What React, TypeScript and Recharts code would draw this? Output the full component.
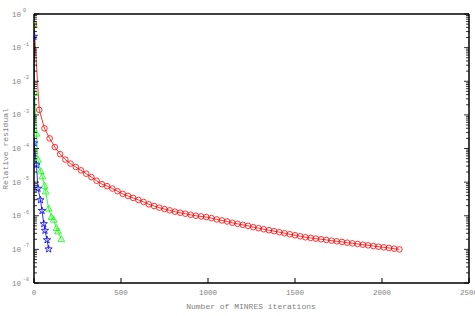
import React from 'react';
import { LineChart, Line, XAxis, YAxis } from 'recharts';

const xTicks = [0, 500, 1000, 1500, 2000, 2500];
const yMajorTicks = [1e-8, 1e-7, 1e-6, 1e-5, 1e-4, 1e-3, 1e-2, 1e-1, 1];
const yMajorExponents = ['-8', '-7', '-6', '-5', '-4', '-3', '-2', '-1', '0'];
const yMinorMultipliers = [2, 3, 4, 5, 6, 7, 8, 9];

const redIters = [
  0, 30, 60, 90, 120, 150, 180, 210, 240, 270, 300, 330, 360, 390, 420, 450, 480, 510, 540, 570,
  600, 630, 660, 690, 720, 750, 780, 810, 840, 870, 900, 930, 960, 990, 1020, 1050, 1080, 1110,
  1140, 1170, 1200, 1230, 1260, 1290, 1320, 1350, 1380, 1410, 1440, 1470, 1500, 1530, 1560, 1590,
  1620, 1650, 1680, 1710, 1740, 1770, 1800, 1830, 1860, 1890, 1920, 1950, 1980, 2010, 2040, 2070, 2100,
];
const redValues = [
  5.0e-1, 1.41e-3, 3.98e-4, 2.0e-4, 1.1e-4, 6.76e-5, 4.68e-5, 3.55e-5, 2.82e-5, 2.24e-5, 1.78e-5,
  1.41e-5, 1.1e-5, 8.71e-6, 7.59e-6, 6.46e-6, 5.37e-6, 4.47e-6, 3.89e-6, 3.39e-6, 2.95e-6, 2.57e-6,
  2.19e-6, 1.95e-6, 1.74e-6, 1.58e-6, 1.45e-6, 1.32e-6, 1.23e-6, 1.15e-6, 1.07e-6, 1.0e-6, 9.55e-7,
  9.12e-7, 8.51e-7, 7.76e-7, 7.24e-7, 6.76e-7, 6.17e-7, 5.75e-7, 5.37e-7, 5.01e-7, 4.57e-7, 4.27e-7,
  3.98e-7, 3.72e-7, 3.47e-7, 3.24e-7, 3.02e-7, 2.82e-7, 2.63e-7, 2.45e-7, 2.29e-7, 2.19e-7, 2.09e-7,
  2.0e-7, 1.91e-7, 1.82e-7, 1.74e-7, 1.66e-7, 1.58e-7, 1.51e-7, 1.45e-7, 1.38e-7, 1.32e-7, 1.26e-7,
  1.2e-7, 1.15e-7, 1.1e-7, 1.05e-7, 1.0e-7,
];

const greenIters = [0, 3, 14, 23, 38, 48, 61, 67, 84, 100, 113, 129, 138, 157];
const greenValues = [
  4.7e-1, 4.47e-3, 2.75e-4, 4.57e-5, 2.09e-5, 1.48e-5, 7.76e-6, 5.25e-6, 1.62e-6, 9.12e-7, 7.59e-7,
  4.27e-7, 3.39e-7, 2.0e-7,
];

const blueIters = [0, 1, 14, 23, 37, 46, 56, 63, 75, 84];
const blueValues = [2.14e-1, 1.45e-4, 3.24e-5, 6.46e-6, 2.95e-6, 1.41e-6, 5.75e-7, 3.63e-7, 1.91e-7, 1.02e-7];

const xLabel = 'Number of MINRES iterations';
const yLabel = 'Relative residual';

const toPoints = (iters: number[], values: number[]) =>
  iters.map((it, i) => ({ iter: it, value: values[i] }));

const redData = toPoints(redIters, redValues);
const greenData = toPoints(greenIters, greenValues);
const blueData = toPoints(blueIters, blueValues);

const yTicks: number[] = [...yMajorTicks];
yMajorTicks.slice(0, -1).forEach((m) => yMinorMultipliers.forEach((k) => yTicks.push(m * k)));

const FONT = '"Liberation Mono", "DejaVu Sans Mono", monospace';
const GRAY = '#808080';

const isMajor = (v: number) => yMajorTicks.some((m) => Math.abs(m - v) / m < 1e-6);

const BottomTick = (props: any) => {
  const { x, y, payload } = props;
  return (
    <g>
      <line x1={x} x2={x} y1={y} y2={y - 5} stroke="#000" strokeWidth={1} />
      <text x={x} y={y + 12} textAnchor="middle" fontFamily={FONT} fontSize={7.5} fill={GRAY}>
        {payload.value}
      </text>
    </g>
  );
};

const TopTick = (props: any) => {
  const { x, y } = props;
  return <line x1={x} x2={x} y1={y} y2={y + 5} stroke="#000" strokeWidth={1} />;
};

const LeftTick = (props: any) => {
  const { x, y, payload } = props;
  const v = payload.value;
  const major = isMajor(v);
  const idx = yMajorTicks.findIndex((m) => Math.abs(m - v) / m < 1e-6);
  return (
    <g>
      <line x1={x} x2={x + (major ? 5 : 3)} y1={y} y2={y} stroke="#000" strokeWidth={0.8} />
      {major && (
        <>
          <text x={x - 13} y={y + 2.5} textAnchor="end" fontFamily={FONT} fontSize={7.5} fill={GRAY}>
            10
          </text>
          <text x={x - 11} y={y - 2} textAnchor="start" fontFamily={FONT} fontSize={5} fill={GRAY}>
            {yMajorExponents[idx]}
          </text>
        </>
      )}
    </g>
  );
};

const RightTick = (props: any) => {
  const { x, y, payload } = props;
  const major = isMajor(payload.value);
  return <line x1={x} x2={x - (major ? 5 : 3)} y1={y} y2={y} stroke="#000" strokeWidth={0.8} />;
};

const CircleDot = (props: any) => {
  const { cx, cy, index } = props;
  if (cx == null || cy == null) return <g key={index} />;
  return <circle key={index} cx={cx} cy={cy} r={2.8} fill="none" stroke="#ff0000" strokeWidth={0.8} />;
};

const TriangleDot = (props: any) => {
  const { cx, cy, index } = props;
  if (cx == null || cy == null) return <g key={index} />;
  const pts = `${cx},${cy - 3.6} ${cx - 3.3},${cy + 2.4} ${cx + 3.3},${cy + 2.4}`;
  return <polygon key={index} points={pts} fill="none" stroke="#00ff00" strokeWidth={0.8} />;
};

const StarDot = (props: any) => {
  const { cx, cy, index } = props;
  if (cx == null || cy == null) return <g key={index} />;
  const pts: string[] = [];
  for (let i = 0; i < 10; i++) {
    const r = i % 2 === 0 ? 3.8 : 1.5;
    const a = -Math.PI / 2 + (i * Math.PI) / 5;
    pts.push(`${cx + r * Math.cos(a)},${cy + r * Math.sin(a)}`);
  }
  return <polygon key={index} points={pts.join(' ')} fill="none" stroke="#0000ff" strokeWidth={0.8} />;
};

export default function App() {
  return (
    <div style={{ position: 'absolute', left: 0, top: 0, width: 475, height: 316, background: '#fff' }}>
      <LineChart width={475} height={316} margin={{ top: 0, right: 0, bottom: 0, left: 0 }}>
        <XAxis
          xAxisId="bottom"
          dataKey="iter"
          type="number"
          domain={[0, 2500]}
          ticks={xTicks}
          interval={0}
          allowDataOverflow
          height={33}
          tickSize={0}
          tickMargin={0}
          tick={<BottomTick />}
          axisLine={{ stroke: '#000', strokeWidth: 1.5 }}
          label={{
            content: () => (
              <text x={251} y={308.5} textAnchor="middle" fontFamily={FONT} fontSize={8} fill={GRAY}>
                {xLabel}
              </text>
            ),
          }}
        />
        <XAxis
          xAxisId="top"
          orientation="top"
          type="number"
          domain={[0, 2500]}
          ticks={xTicks}
          interval={0}
          allowDataOverflow
          height={14}
          tickSize={0}
          tickMargin={0}
          tick={<TopTick />}
          axisLine={{ stroke: '#000', strokeWidth: 1.5 }}
        />
        <YAxis
          yAxisId="left"
          type="number"
          scale="log"
          domain={[1e-8, 1]}
          ticks={yTicks}
          interval={0}
          allowDataOverflow
          width={34}
          tickSize={0}
          tickMargin={0}
          tick={<LeftTick />}
          axisLine={{ stroke: '#000', strokeWidth: 1.5 }}
          label={{
            content: () => (
              <text
                x={8}
                y={149}
                transform="rotate(-90 8 149)"
                textAnchor="middle"
                fontFamily={FONT}
                fontSize={8}
                fill={GRAY}
              >
                {yLabel}
              </text>
            ),
          }}
        />
        <YAxis
          yAxisId="right"
          orientation="right"
          type="number"
          scale="log"
          domain={[1e-8, 1]}
          ticks={yTicks}
          interval={0}
          allowDataOverflow
          width={6}
          tickSize={0}
          tickMargin={0}
          tick={<RightTick />}
          axisLine={{ stroke: '#000', strokeWidth: 1.5 }}
        />
        <Line
          xAxisId="bottom"
          yAxisId="left"
          data={redData}
          dataKey="value"
          stroke="#ff0000"
          strokeWidth={0.8}
          dot={CircleDot}
          isAnimationActive={false}
        />
        <Line
          xAxisId="bottom"
          yAxisId="left"
          data={greenData}
          dataKey="value"
          stroke="#00ff00"
          strokeWidth={0.8}
          dot={TriangleDot}
          isAnimationActive={false}
        />
        <Line
          xAxisId="bottom"
          yAxisId="left"
          data={blueData}
          dataKey="value"
          stroke="#0000ff"
          strokeWidth={0.8}
          dot={StarDot}
          isAnimationActive={false}
        />
      </LineChart>
    </div>
  );
}
